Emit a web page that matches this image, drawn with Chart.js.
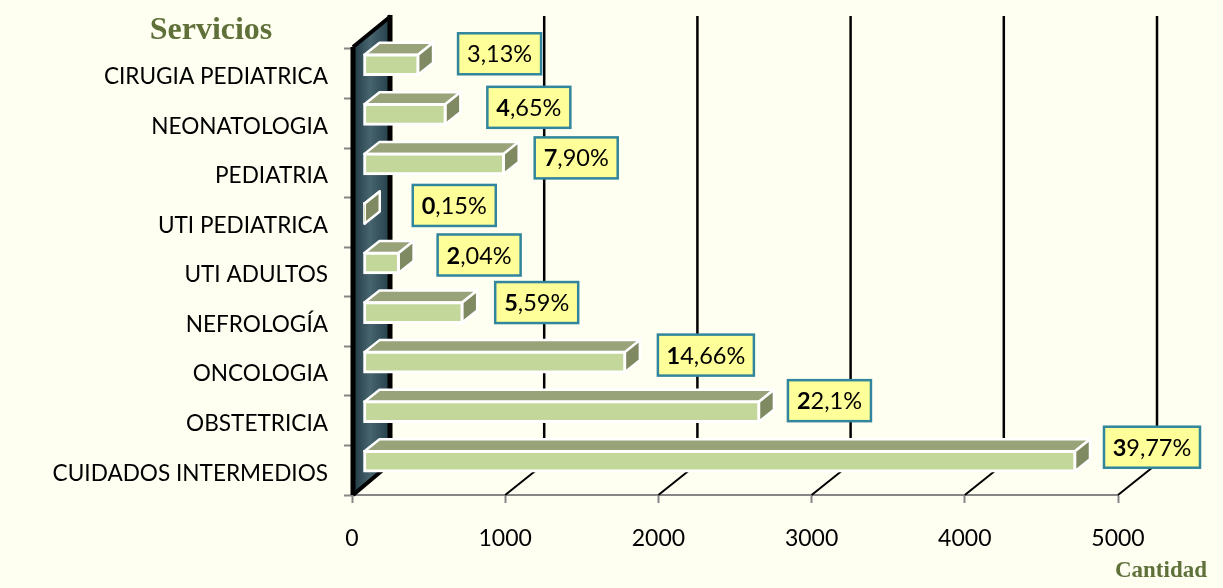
<!DOCTYPE html>
<html>
<head>
<meta charset="utf-8">
<style>
  html, body { margin: 0; padding: 0; background: #FEFFF1; }
  canvas { display: block; }
</style>
<script src="https://cdn.jsdelivr.net/npm/chart.js@4/dist/chart.umd.min.js"></script>
</head>
<body>
<canvas id="servicios" width="1223" height="588"></canvas>
<script>
const categories = ['CIRUGIA PEDIATRICA', 'NEONATOLOGIA', 'PEDIATRIA', 'UTI PEDIATRICA', 'UTI ADULTOS', 'NEFROLOGÍA', 'ONCOLOGIA', 'OBSTETRICIA', 'CUIDADOS INTERMEDIOS'];
const cantidad = [366, 544, 925, 18, 239, 654, 1716, 2591, 4654];
const boldPart = ['', '4', '7', '0', '2', '5', '1', '2', '3'];
const restPart = ['3,13%', ',65%', ',90%', ',15%', ',04%', ',59%', '4,66%', '2,1%', '9,77%'];
const xTicks = [0, 1000, 2000, 3000, 4000, 5000];

// label boxes were placed by hand in the original, so each one has its own nudge
const nudgeX = [9, 11, 0, 17, 8, 2, 2, -2, -2];
const nudgeY = [-20, -16, -15, -17, -17, -19, -16, -20, -23];

const DEPTH_X = 40, DEPTH_Y = 32;     // back wall offset
const BAR_X = 11, BAR_Y = -9;         // bars stand off the wall
const FACE_X = 15, FACE_Y = 12;       // depth of each bar
const LABEL_FONT = 'Lato, "Open Sans", sans-serif';

function poly(ctx, pts, fill, stroke, lw) {
    ctx.beginPath();
    pts.forEach((p, i) => i ? ctx.lineTo(p[0], p[1]) : ctx.moveTo(p[0], p[1]));
    ctx.closePath();
    ctx.fillStyle = fill;
    ctx.fill();
    if (stroke) {
        ctx.strokeStyle = stroke;
        ctx.lineWidth = lw;
        ctx.lineJoin = 'round';
        ctx.stroke();
    }
}

const depthPlugin = {
    id: 'depth',
    beforeDatasetsDraw(chart) {
        const ctx = chart.ctx, x = chart.scales.x, area = chart.chartArea;
        const x0 = x.getPixelForValue(0);
        const top = area.top - 2, bottom = area.bottom;

        // left wall
        const wall = ctx.createLinearGradient(x0, 0, x0 + DEPTH_X, 0);
        wall.addColorStop(0, '#1E3640');
        wall.addColorStop(0.45, '#47656F');
        wall.addColorStop(1, '#223C46');
        poly(ctx, [[x0, top], [x0 + DEPTH_X, top - DEPTH_Y + 1], [x0 + DEPTH_X, bottom - DEPTH_Y], [x0, bottom]], wall);

        ctx.strokeStyle = '#000';
        ctx.lineCap = 'butt';
        ctx.lineWidth = 5;
        ctx.beginPath();
        ctx.moveTo(x0 + 1, top);
        ctx.lineTo(x0 + 1, bottom);
        ctx.moveTo(x0 + DEPTH_X - 2, top - DEPTH_Y);
        ctx.lineTo(x0 + DEPTH_X - 2, bottom - DEPTH_Y);
        ctx.stroke();
        ctx.lineWidth = 4;
        ctx.beginPath();
        ctx.moveTo(x0 + 1, top);
        ctx.lineTo(x0 + DEPTH_X - 1, top - DEPTH_Y + 1);
        ctx.moveTo(x0 + 1, bottom);
        ctx.lineTo(x0 + DEPTH_X - 1, bottom - DEPTH_Y);
        ctx.stroke();

        // grid: floor diagonal + back wall line per tick
        xTicks.slice(1).forEach(v => {
            const px = x.getPixelForValue(v);
            ctx.lineWidth = 2;
            ctx.beginPath();
            ctx.moveTo(px, bottom);
            ctx.lineTo(px + DEPTH_X, bottom - DEPTH_Y);
            ctx.stroke();
            ctx.lineWidth = 2.5;
            ctx.beginPath();
            ctx.moveTo(px + DEPTH_X - 1, top - DEPTH_Y + 1);
            ctx.lineTo(px + DEPTH_X - 1, bottom - DEPTH_Y);
            ctx.stroke();
        });
    },
    beforeDatasetDraw(chart, args) {
        const ctx = chart.ctx;
        ctx.save();
        ctx.translate(BAR_X, BAR_Y);
        // top and side faces come from the same bar elements
        chart.getDatasetMeta(args.index).data.forEach(el => {
            const y0 = el.y - el.height / 2 + 1, y1 = el.y + el.height / 2 - 1;
            const xa = el.base + 1, xb = el.x - 1;
            poly(ctx, [[xa, y0], [xa + FACE_X, y0 - FACE_Y], [xb + FACE_X, y0 - FACE_Y], [xb, y0]], '#98A37A', '#fff', 2.5);
            poly(ctx, [[xb, y0], [xb + FACE_X, y0 - FACE_Y], [xb + FACE_X, y1 - FACE_Y], [xb, y1]], '#7F8A62', '#fff', 2.5);
        });
    },
    afterDatasetDraw(chart) {
        chart.ctx.restore();
    },
    afterDatasetsDraw(chart) {
        const ctx = chart.ctx;
        const els = chart.getDatasetMeta(0).data;
        els.forEach((el, i) => {
            const bold = boldPart[i], rest = restPart[i];
            const w = (bold + rest).length > 5 ? 96 : 83, h = 41;
            const left = el.x + BAR_X + 30 + nudgeX[i];
            const cy = el.y + nudgeY[i];

            ctx.fillStyle = '#FFFF99';
            ctx.strokeStyle = '#31859C';
            ctx.lineWidth = 2.5;
            ctx.lineJoin = 'miter';
            ctx.fillRect(left, cy - h / 2, w, h);
            ctx.strokeRect(left, cy - h / 2, w, h);

            ctx.fillStyle = '#000';
            ctx.textBaseline = 'middle';
            ctx.textAlign = 'left';
            ctx.font = 'bold 23.5px ' + LABEL_FONT;
            const bw = ctx.measureText(bold).width;
            ctx.font = '23.5px ' + LABEL_FONT;
            const rw = ctx.measureText(rest).width;
            const tx = left + (w - bw - rw) / 2;
            ctx.font = 'bold 23.5px ' + LABEL_FONT;
            ctx.fillText(bold, tx, cy + 1);
            ctx.font = '23.5px ' + LABEL_FONT;
            ctx.fillText(rest, tx + bw, cy + 1);
        });

        // axis captions
        ctx.fillStyle = '#5F7039';
        ctx.textBaseline = 'middle';
        ctx.textAlign = 'center';
        ctx.font = 'bold 32px "Liberation Serif", serif';
        ctx.fillText('Servicios', 211, 31);
        ctx.font = 'bold 23px "Liberation Serif", serif';
        ctx.textAlign = 'right';
        ctx.fillText('Cantidad', 1207, 571);
    }
};

new Chart(document.getElementById('servicios'), {
    type: 'bar',
    data: {
        labels: categories,
        datasets: [{
            label: 'Cantidad',
            data: cantidad,
            backgroundColor: '#C4D79B',
            borderColor: '#FFFFFF',
            borderWidth: 3,
            borderSkipped: false,
            barThickness: 22,
            clip: false
        }]
    },
    options: {
        indexAxis: 'y',
        responsive: false,
        animation: false,
        layout: { padding: { top: 49, right: 105, left: 0, bottom: 0 } },
        plugins: {
            legend: { display: false },
            tooltip: { enabled: false },
            title: { display: false }
        },
        scales: {
            x: {
                min: 0,
                max: 5000,
                afterFit: s => { s.height = 93; },
                afterBuildTicks: s => { s.ticks = xTicks.map(v => ({ value: v })); },
                grid: { drawOnChartArea: false, tickLength: 8, tickColor: '#868686', tickWidth: 2 },
                border: { color: '#868686', width: 2 },
                ticks: {
                    color: '#000',
                    padding: 22,
                    maxRotation: 0,
                    callback: v => String(v),
                    font: { family: LABEL_FONT, size: 23 }
                }
            },
            y: {
                afterFit: s => { s.width = 352; },
                grid: { drawOnChartArea: false, tickLength: 8, tickColor: '#868686', tickWidth: 2 },
                border: { display: false },
                ticks: { color: '#000', padding: 16, labelOffset: 3, font: { family: LABEL_FONT, size: 22.6 } }
            }
        }
    },
    plugins: [depthPlugin]
});
</script>
</body>
</html>
